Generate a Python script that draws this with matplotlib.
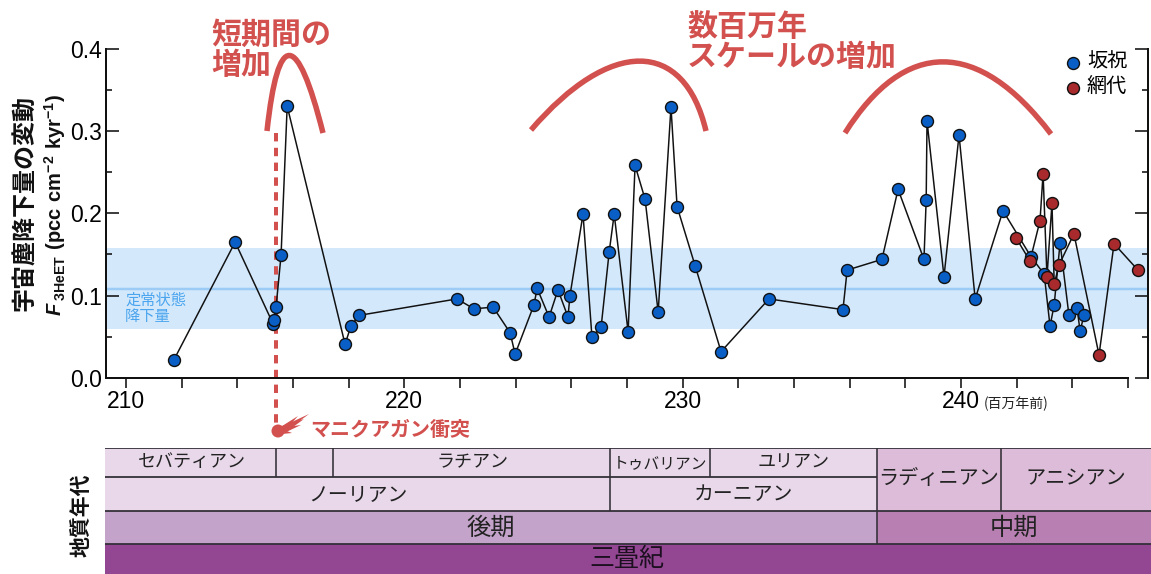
import matplotlib
matplotlib.use("Agg")
import matplotlib.pyplot as plt
from matplotlib.patches import Circle, PathPatch, Polygon
from matplotlib.path import Path
from matplotlib.ticker import MultipleLocator

W, H = 1151, 574
JP = ['Noto Sans CJK JP', 'DejaVu Sans']
plt.rcParams['font.family'] = ['Liberation Sans', 'Noto Sans CJK JP', 'DejaVu Sans']
plt.rcParams['mathtext.fontset'] = 'custom'
plt.rcParams['mathtext.rm'] = 'Liberation Sans'
plt.rcParams['mathtext.bf'] = 'Liberation Sans:bold'
plt.rcParams['mathtext.bfit'] = 'Liberation Sans:italic:bold'

# age in Ma, flux in pcc cm-2 kyr-1
sakahogi_age = [211.72, 213.92, 215.28, 215.32, 215.39, 215.57, 215.79, 217.87, 218.08, 218.37,
                221.89, 222.50, 223.19, 223.80, 223.98, 224.66, 224.77, 225.20, 225.52, 225.88,
                225.95, 226.42, 226.74, 227.07, 227.36, 227.54, 228.04, 228.29, 228.65, 229.12,
                229.58, 229.80, 230.45, 231.38, 233.10, 235.76, 235.91, 237.16, 237.74, 238.67,
                238.75, 238.78, 239.39, 239.93, 240.51, 241.51, 242.52, 242.99, 243.20, 243.35,
                243.56, 243.88, 244.17, 244.28, 244.42]
sakahogi_flux = [.022, .165, .066, .070, .086, .149, .330, .041, .063, .076,
                 .096, .084, .086, .055, .029, .089, .109, .074, .107, .074,
                 .100, .199, .050, .062, .153, .199, .056, .258, .217, .080,
                 .329, .208, .136, .032, .096, .083, .131, .144, .229, .144,
                 .216, .312, .123, .295, .096, .203, .147, .126, .063, .089,
                 .164, .076, .085, .057, .076]
ajiro_age = [241.98, 242.48, 242.84, 242.95, 243.09, 243.27, 243.35, 243.52, 244.06, 244.96,
             245.50, 246.36]
ajiro_flux = [.170, .142, .191, .248, .123, .212, .114, .137, .175, .028, .163, .131]

band_low, band_high, band_mid = 0.059, 0.158, 0.108
impact_age = 215.39
impact_top, impact_bottom = 0.297, -0.057

# geologic time scale: names and box edges in Ma
stage_names = ['セバティアン', '', 'ラチアン', 'ユリアン']
stage_edges = [209.25, 215.39, 217.44, 227.39, 236.99]
tuvalian_edges = [227.39, 230.98]
julian_edges = [230.98, 236.99]
substage_names = ['ノーリアン', 'カーニアン']
substage_edges = [209.25, 227.39, 236.99]
middle_names = ['ラディニアン', 'アニシアン']
middle_edges = [236.99, 241.44, 246.83]
epoch_names = ['後期', '中期']
epoch_edges = [209.25, 236.99, 246.83]
period_name = '三畳紀'

BLUE = '#0a5fc6'
DARKRED = '#a82a2c'
RED = '#d2504e'
BAND = '#d3e8fb'
MIDLINE = '#9cccf6'
EDGE = '#333038'


def px(v):
    """Pixels at dpi 100 to points."""
    return v * 0.72


def axes_box(left, top, right, bottom):
    return [left / W, 1 - bottom / H, (right - left) / W, (bottom - top) / H]


fig = plt.figure(figsize=(W / 100, H / 100), dpi=100, facecolor='white')

# main plot
ax = fig.add_axes(axes_box(106, 48.5, 1148, 378))
ax.set_xlim(209.28, 246.72)
ax.set_ylim(0, 0.4)
ax.patch.set_alpha(0)
ax.axhspan(band_low, band_high, color=BAND, lw=0, zorder=0)
ax.axhline(band_mid, color=MIDLINE, lw=px(2.5), zorder=1)
ax.plot([impact_age, impact_age], [impact_top, impact_bottom], color=RED, lw=px(4),
        dashes=(2.1, 1.6), clip_on=False, zorder=2)
ax.plot(sakahogi_age, sakahogi_flux, color='#111111', lw=px(1.5), zorder=3, clip_on=False)
ax.plot(ajiro_age, ajiro_flux, color='#111111', lw=px(1.5), zorder=4, clip_on=False)
ax.scatter(sakahogi_age, sakahogi_flux, s=74, color=BLUE, edgecolor='#111111', lw=px(1.4),
           zorder=5, clip_on=False, label='坂祝')
ax.scatter(ajiro_age, ajiro_flux, s=74, color=DARKRED, edgecolor='#111111', lw=px(1.4),
           zorder=6, clip_on=False, label='網代')
ax.legend(loc='upper right', bbox_to_anchor=(0.980, 0.990), frameon=False,
          prop={'family': JP, 'size': 14.5}, handletextpad=0.0, handlelength=1.4,
          labelspacing=0.2, borderpad=0, borderaxespad=0)

ax.spines['top'].set_visible(False)
for side in ['left', 'right', 'bottom']:
    ax.spines[side].set_linewidth(px(2))
    ax.spines[side].set_color('#111111')
ax.spines['bottom'].set_bounds(209.28, 246)
ax.yaxis.set_major_locator(MultipleLocator(0.1))
ax.yaxis.set_minor_locator(MultipleLocator(0.05))
ax.set_xticks([t for t in range(210, 247, 2) if t % 10], minor=True)
ax.set_xticks([210, 220, 230, 240])
ax.tick_params(axis='x', which='both', direction='out', length=px(10), width=px(1.6),
               labelsize=16.5, pad=1.5, color='#111111')
ax.tick_params(axis='y', which='major', direction='in', length=px(13), width=px(1.6),
               labelsize=16.5, pad=3, left=True, right=True, color='#111111')
ax.tick_params(axis='y', which='minor', direction='in', length=px(6), width=px(1.6),
               left=True, right=True, color='#111111')
ax.set_yticks([0, 0.1, 0.2, 0.3, 0.4])
ax.set_yticklabels(['0.0', '0.1', '0.2', '0.3', '0.4'])

# time scale strip
strip = fig.add_axes(axes_box(105, 448, 1151, 574))
strip.set_xlim(209.25, 246.83)
strip.set_ylim(574, 448)
strip.axis('off')


def draw_row(names, edges, top, bottom, color, size, text_color='#222222', label_y=None, shift=0):
    for i, name in enumerate(names):
        strip.barh((top + bottom) / 2, edges[i + 1] - edges[i], left=edges[i], height=bottom - top,
                   color=color, lw=0, zorder=1)
        strip.text((edges[i] + edges[i + 1]) / 2 + shift, label_y or (top + bottom) / 2, name,
                   family=JP, fontsize=size, color=text_color, ha='center', va='center', zorder=3)
    strip.vlines(edges[1:-1], top, bottom, color=EDGE, lw=px(1.6), zorder=2)


draw_row(stage_names[:3], stage_edges[:4], 448, 477, '#e8d8ea', 13, label_y=462.5, shift=0.05)
draw_row(['トゥバリアン'], tuvalian_edges, 448, 477, '#e8d8ea', 11.3, label_y=464)
draw_row(stage_names[3:], julian_edges, 448, 477, '#e8d8ea', 13, label_y=462)
strip.vlines(julian_edges[0], 448, 477, color=EDGE, lw=px(1.6), zorder=2)
strip.vlines(tuvalian_edges[0], 448, 477, color=EDGE, lw=px(1.6), zorder=2)
draw_row(substage_names, substage_edges, 477, 511, '#e8d8ea', 14.3, label_y=495)
draw_row(middle_names, middle_edges, 448, 511, '#dcbcd9', 14.5, label_y=479)
draw_row(epoch_names[:1], epoch_edges[:2], 511, 544, '#c4a3cb', 17.5)
draw_row(epoch_names[1:], epoch_edges[1:], 511, 544, '#b87fb3', 17.5)
draw_row([period_name], [epoch_edges[0], epoch_edges[-1]], 544, 574, '#934792', 18, '#1c0f20',
         shift=-0.05)
for y, end in [(448, epoch_edges[-1]), (477, middle_edges[0]), (511, epoch_edges[-1]), (544, epoch_edges[-1])]:
    strip.hlines(y, epoch_edges[0], end, color=EDGE, lw=px(1.8), zorder=2)
strip.vlines(middle_edges[0], 448, 544, color=EDGE, lw=px(1.6), zorder=2.2)

# annotations, in pixel coordinates of the picture
over = fig.add_axes([0, 0, 1, 1])
over.set_xlim(0, W)
over.set_ylim(H, 0)
over.axis('off')

for p0, c1, c2, p3 in [((267, 131), (278, 30), (297, 30), (323, 133)),
                       ((531, 130), (610, 38), (684, 38), (706, 131)),
                       ((845, 133), (905, 38), (978, 38), (1051, 134))]:
    arc = Path([p0, c1, c2, p3], [Path.MOVETO, Path.CURVE4, Path.CURVE4, Path.CURVE4])
    over.add_patch(PathPatch(arc, fc='none', ec=RED, lw=px(5.5), capstyle='butt'))

big = dict(family=JP, fontsize=21.6, fontweight='bold', color=RED, va='center', ha='left')
over.text(211, 35, '短期間の', **big)
over.text(211, 65, '増加', **big)
over.text(687, 27, '数百万年', **big)
over.text(687, 57, 'スケールの増加', **big)

over.add_patch(Circle((278, 431), 6.5, color=RED, lw=0))
for tip, root in [((309, 414), 3), ((304, 419), 4), ((298, 416), 3), ((301, 425), 3), ((292, 433), 3)]:
    over.add_patch(Polygon([(279, 431 - root), tip, (282, 431 + root)], color=RED, lw=0))
over.text(310, 429, 'マニクアガン衝突', family=JP, fontsize=14.4, fontweight='bold', color=RED,
          va='center', ha='left')

over.text(125, 300, '定常状態', family=JP, fontsize=11, color='#4ba5ee', va='center')
over.text(125, 316, '降下量', family=JP, fontsize=11, color='#4ba5ee', va='center')
over.text(984, 404, '(百万年前)', family=JP, fontsize=10, color='#222222', va='center')

over.text(25, 203, '宇宙塵降下量の変動', family=JP, fontsize=17.3, fontweight='bold', rotation=90,
          ha='center', va='center', color='#111111')
over.text(55, 205, r'$\mathbfit{F}\,_{\mathbf{3HeET}}\ \mathbf{(pcc\ cm^{-2}\ kyr^{-1})}$',
          fontsize=14.5, rotation=90, ha='center', va='center', color='#111111')
over.text(82, 515, '地質年代', family=JP, fontsize=15, fontweight='bold', rotation=90,
          ha='center', va='center', color='#111111')

fig.savefig('out.png', dpi=100)
